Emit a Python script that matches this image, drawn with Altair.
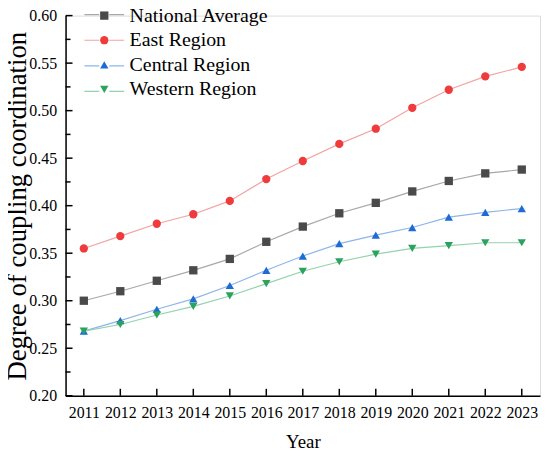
import altair as alt
import pandas as pd

years = list(range(2011, 2024))
regions = ["National Average", "East Region", "Central Region", "Western Region"]

national = [0.300, 0.310, 0.321, 0.332, 0.344, 0.362, 0.378, 0.392, 0.403, 0.415, 0.426, 0.434, 0.438]
east = [0.355, 0.368, 0.381, 0.391, 0.405, 0.428, 0.447, 0.465, 0.481, 0.503, 0.522, 0.536, 0.546]
central = [0.268, 0.279, 0.291, 0.302, 0.316, 0.332, 0.347, 0.360, 0.369, 0.377, 0.388, 0.393, 0.397]
western = [0.268, 0.275, 0.285, 0.294, 0.305, 0.318, 0.331, 0.341, 0.349, 0.355, 0.358, 0.361, 0.361]

y_major = [0.20, 0.25, 0.30, 0.35, 0.40, 0.45, 0.50, 0.55, 0.60]
y_minor = [0.225, 0.275, 0.325, 0.375, 0.425, 0.475, 0.525, 0.575]

series = [national, east, central, western]
rows = []
for name, vals in zip(regions, series):
    for yr, v in zip(years, vals):
        rows.append({"Year": yr, "Region": name, "Series": name, "Value": v})
df = pd.DataFrame(rows)

marker_colors = ["#4a4a4a", "#ef3b3b", "#1f6bd6", "#2ca25f"]
line_colors = ["#a8a8a8", "#f2a3a3", "#8db6ea", "#92d3ad"]
shapes = ["square", "circle", "triangle-up", "triangle-down"]

W, H = 478, 383
FONT = "Liberation Serif"

xscale = alt.Scale(domain=[2010.5, 2023.5], nice=False, zero=False)
yscale = alt.Scale(domain=[0.2, 0.6], nice=False, zero=False)

xaxis = alt.Axis(values=years, format="d", title="Year", grid=False, ticks=False, tickSize=0,
                 labelPadding=9, labelFontSize=16, labelFont=FONT, labelColor="black",
                 labelOverlap=False, labelFlush=False, labelBound=False,
                 titleFont=FONT, titleFontSize=19, titleFontWeight="normal", titleColor="black",
                 titleBaseline="alphabetic", titleY=52,
                 domainColor="black", domainWidth=1.5)
yaxis = alt.Axis(values=y_major, format=".2f", title="Degree of coupling coordination", grid=False,
                 ticks=False, tickSize=0, labelPadding=9, labelFontSize=16, labelFont=FONT,
                 labelColor="black", labelOverlap=False, labelFlush=False,
                 titleFont=FONT, titleFontSize=27, titleFontWeight="normal",
                 titleColor="black", titleBaseline="alphabetic", titleX=-40,
                 domainColor="black", domainWidth=1.5)

common_leg = dict(title=None, orient="none", padding=0,
                  labelFont=FONT, labelFontSize=20, labelColor="black", labelFontWeight="normal",
                  rowPadding=4.8, symbolOpacity=1)

line_leg = alt.Legend(symbolType="M-2,0L-0.5,0M0.5,0L2,0", symbolSize=400, legendX=28, legendY=-12,
                      symbolStrokeWidth=1.2, labelOffset=6, labelExpr="''", **common_leg)
mark_leg = alt.Legend(symbolSize=70, legendX=29, legendY=-10, labelOffset=15.5, symbolStrokeWidth=0,
                      **common_leg)

base = alt.Chart(df)

lines = base.mark_line(strokeWidth=1.2).encode(
    x=alt.X("Year:Q", scale=xscale, axis=xaxis),
    y=alt.Y("Value:Q", scale=yscale, axis=yaxis),
    color=alt.Color("Region:N", sort=regions, scale=alt.Scale(range=line_colors), legend=line_leg),
)

points = base.mark_point(filled=True, size=70, opacity=1).encode(
    x=alt.X("Year:Q", scale=xscale, axis=xaxis),
    y=alt.Y("Value:Q", scale=yscale, axis=yaxis),
    fill=alt.Fill("Series:N", scale=alt.Scale(domain=regions, range=marker_colors), legend=mark_leg),
    shape=alt.Shape("Series:N", scale=alt.Scale(domain=regions, range=shapes), legend=mark_leg),
)

ymaj_df = pd.DataFrame({"Value": y_major})
ymin_df = pd.DataFrame({"Value": y_minor})
x_df = pd.DataFrame({"Year": years})

ymaj_ticks = alt.Chart(ymaj_df).mark_rule(color="black", strokeWidth=1.5).encode(
    y=alt.Y("Value:Q", scale=yscale, axis=yaxis), x=alt.value(0), x2=alt.value(7))
ymin_ticks = alt.Chart(ymin_df).mark_rule(color="black", strokeWidth=1.5).encode(
    y=alt.Y("Value:Q", scale=yscale, axis=yaxis), x=alt.value(0), x2=alt.value(5))
x_ticks = alt.Chart(x_df).mark_rule(color="black", strokeWidth=1.5).encode(
    x=alt.X("Year:Q", scale=xscale, axis=xaxis), y=alt.value(H), y2=alt.value(H - 7))

chart = alt.layer(lines, points, ymaj_ticks, ymin_ticks, x_ticks).properties(
    width=W, height=H,
    padding={"left": 58, "top": 6, "right": 2, "bottom": 55},
    autosize=alt.AutoSizeParams(type="none"),
).configure_view(stroke=None).configure_axis(labelOverlap=False).configure_legend(
    labelFont=FONT, labelFontSize=20, labelColor="black"
).configure(background="white")

chart.save("out.html", embed_options={"renderer": "svg", "actions": False})
